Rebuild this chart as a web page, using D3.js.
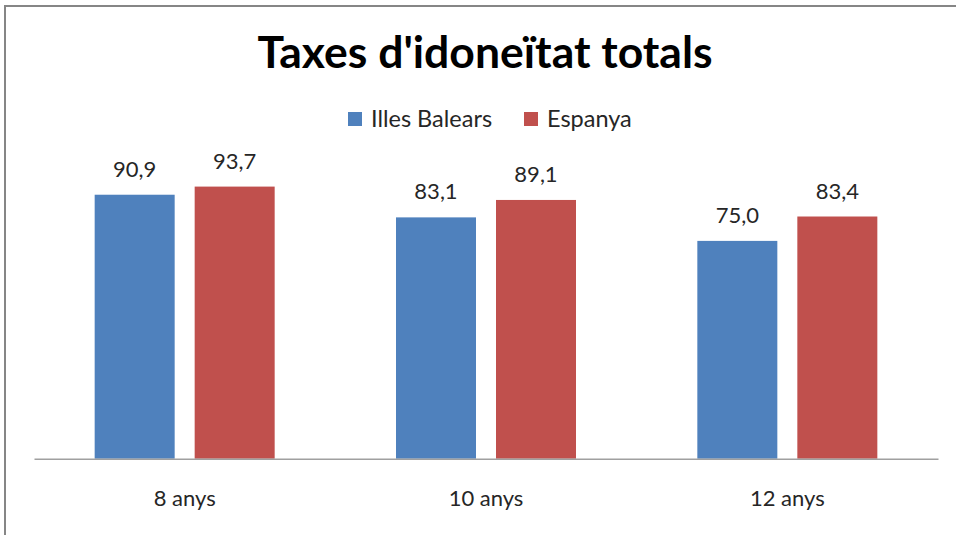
<!DOCTYPE html>
<html>
    <head>
        <meta charset="utf-8">
        <title>Taxes d'idoneïtat totals</title>
        <script src="https://d3js.org/d3.v7.min.js"></script>
        <style>
            body { margin: 0; background: #fff; }
        </style>
    </head>
    <body>
        <div id="BarChart"></div>

        <script type="text/javascript">

            var categories = ["8 anys", "10 anys", "12 anys"];
            var seriesNames = ["Illes Balears", "Espanya"];
            var illesBalears = [90.9, 83.1, 75.0];
            var espanya = [93.7, 89.1, 83.4];
            var colors = ["#4F81BD", "#C0504D"];

            var values = [illesBalears, espanya];
            var data = categories.map(function(c, i) {
                return { cat: c, vals: seriesNames.map(function(s, j) { return { name: s, v: values[j][i], color: colors[j] }; }) };
            });

            var W = 956, H = 535;
            var font = "Lato, 'Open Sans', sans-serif";

            var svg = d3.select("#BarChart")
                .append("svg")
                .attr("width", W)
                .attr("height", H);

            svg.append("rect")
                .attr("x", 5).attr("y", 6)
                .attr("width", 1000).attr("height", 600)
                .attr("fill", "#fff")
                .attr("stroke", "#868686")
                .attr("stroke-width", 2);

            var x0 = d3.scaleBand()
                .domain(categories)
                .range([34, 938]);

            var x1 = d3.scaleBand()
                .domain(seriesNames)
                .range([-90, 90])
                .paddingInner(0.2);

            var y = d3.scaleLinear()
                .domain([0, 100])
                .range([458.7, 168.3]);

            var groups = svg.selectAll(".group")
                .data(data)
                .enter().append("g")
                .attr("transform", function(d) { return "translate(" + (x0(d.cat) + x0.bandwidth() / 2) + ",0)"; });

            groups.selectAll("rect")
                .data(function(d) { return d.vals; })
                .enter().append("rect")
                .attr("x", function(d) { return x1(d.name); })
                .attr("y", function(d) { return y(d.v); })
                .attr("width", x1.bandwidth())
                .attr("height", function(d) { return y(0) - y(d.v); })
                .attr("fill", function(d) { return d.color; });

            groups.selectAll("text")
                .data(function(d) { return d.vals; })
                .enter().append("text")
                .attr("x", function(d) { return x1(d.name) + x1.bandwidth() / 2; })
                .attr("y", function(d) { return y(d.v) - 18; })
                .attr("text-anchor", "middle")
                .style("font-family", font)
                .style("font-size", "22px")
                .style("fill", "#262626")
                .text(function(d) { return d.v.toFixed(1).replace(".", ","); });

            var xAxis = svg.append("g")
                .attr("transform", "translate(0," + y(0) + ")")
                .call(d3.axisBottom(x0).tickSize(0).tickPadding(32));
            xAxis.select(".domain").attr("stroke", "#a0a0a0").attr("stroke-width", 1.5);
            xAxis.selectAll("text")
                .style("font-family", font)
                .style("font-size", "22px")
                .style("fill", "#262626");

            svg.append("text")
                .attr("x", 485)
                .attr("y", 68)
                .attr("text-anchor", "middle")
                .style("font-family", font)
                .style("font-weight", "bold")
                .style("font-size", "44.5px")
                .style("fill", "#000")
                .text("Taxes d'idoneïtat totals");

            var legendX = [348, 524];
            var legend = svg.selectAll(".legend")
                .data(seriesNames)
                .enter().append("g")
                .attr("transform", function(d, i) { return "translate(" + legendX[i] + ",112)"; });
            legend.append("rect")
                .attr("width", 14).attr("height", 14)
                .attr("fill", function(d, i) { return colors[i]; });
            legend.append("text")
                .attr("x", 23)
                .attr("y", 15)
                .style("font-family", font)
                .style("font-size", "23.5px")
                .style("fill", "#262626")
                .text(function(d) { return d; });

        </script>
    </body>
</html>
